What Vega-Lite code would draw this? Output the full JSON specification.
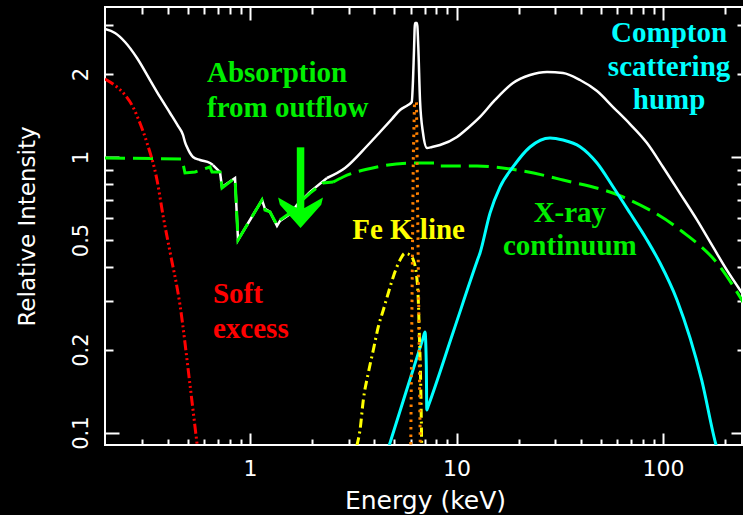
{
  "$schema": "https://vega.github.io/schema/vega-lite/v6.json",
  "autosize": "none",
  "padding": {"left": 105, "top": 7, "right": 1, "bottom": 70},
  "width": 637,
  "height": 438,
  "background": "black",
  "config": {
    "view": {"stroke": "white", "strokeWidth": 2},
    "axis": {"labelColor": "white", "titleColor": "white", "labelFont": "DejaVu Sans", "titleFont": "DejaVu Sans", "titleFontWeight": "normal", "grid": false, "domain": false, "tickColor": "white", "tickWidth": 2, "labelOverlap": false}
  },
  "datasets": {
    "totalSoft": [{"E":0.1985,"I":2.913},{"E":0.222,"I":2.817},{"E":0.2481,"I":2.613},{"E":0.2836,"I":2.286},{"E":0.328,"I":1.902},{"E":0.3665,"I":1.651},{"E":0.41,"I":1.444},{"E":0.4479,"I":1.296},{"E":0.4736,"I":1.202},{"E":0.4843,"I":1.133},{"E":0.4952,"I":1.087},{"E":0.5122,"I":1.034},{"E":0.5297,"I":1.0},{"E":0.5727,"I":0.975},{"E":0.6401,"I":0.951},{"E":0.6618,"I":0.935}],
    "totalAbs": [{"E":0.6618,"I":0.935},{"E":0.7155,"I":0.882},{"E":0.7317,"I":0.778},{"E":0.8461,"I":0.839},{"E":0.8748,"I":0.5},{"E":1.1431,"I":0.698},{"E":1.1819,"I":0.648},{"E":1.25,"I":0.632},{"E":1.3513,"I":0.562},{"E":1.3973,"I":0.586},{"E":1.5619,"I":0.621},{"E":1.6889,"I":0.67},{"E":1.9528,"I":0.747},{"E":2.3599,"I":0.839}],
    "totalHard": [{"E":2.3599,"I":0.839},{"E":2.884,"I":0.912},{"E":3.687,"I":1.096},{"E":4.2616,"I":1.232},{"E":4.872,"I":1.375},{"E":5.327,"I":1.481},{"E":5.824,"I":1.544},{"E":6.069,"I":1.583},{"E":6.157,"I":1.902},{"E":6.226,"I":2.444},{"E":6.295,"I":3.062},{"E":6.437,"I":3.062},{"E":6.531,"I":2.506},{"E":6.656,"I":1.61},{"E":6.883,"I":1.222},{"E":7.197,"I":1.078},{"E":7.61,"I":1.087},{"E":8.322,"I":1.105},{"E":10.056,"I":1.182},{"E":11.369,"I":1.274},{"E":12.998,"I":1.397},{"E":15.364,"I":1.61},{"E":18.775,"I":1.855},{"E":22.697,"I":1.983},{"E":27.438,"I":2.034},{"E":32.793,"I":2.017},{"E":39.637,"I":1.902},{"E":47.909,"I":1.735},{"E":57.282,"I":1.518},{"E":69.215,"I":1.317},{"E":83.659,"I":1.124},{"E":100,"I":0.92},{"E":120.87,"I":0.738},{"E":146.07,"I":0.591},{"E":174.66,"I":0.4716},{"E":206.48,"I":0.3828},{"E":236.01,"I":0.3294},{"E":249.5,"I":0.31}],
    "continuumSoft": [{"E":0.1985,"I":0.992},{"E":0.4686,"I":0.983},{"E":0.4843,"I":0.875},{"E":0.5417,"I":0.882},{"E":0.6401,"I":0.92},{"E":0.6546,"I":0.882},{"E":0.7155,"I":0.882},{"E":0.7317,"I":0.772},{"E":0.8461,"I":0.839},{"E":0.8748,"I":0.5},{"E":1.1431,"I":0.698},{"E":1.1819,"I":0.642},{"E":1.25,"I":0.632},{"E":1.3513,"I":0.567},{"E":1.3973,"I":0.591},{"E":1.5619,"I":0.626},{"E":1.6889,"I":0.67},{"E":1.9528,"I":0.74},{"E":2.257,"I":0.805},{"E":2.523,"I":0.811}],
    "continuumHard": [{"E":2.523,"I":0.811},{"E":2.8212,"I":0.846},{"E":4.121,"I":0.92},{"E":6.157,"I":0.951},{"E":7.197,"I":0.951},{"E":7.868,"I":0.951},{"E":8.138,"I":0.928},{"E":12.571,"I":0.928},{"E":19.634,"I":0.897},{"E":32.793,"I":0.825},{"E":64.032,"I":0.716},{"E":120.87,"I":0.544},{"E":188.8,"I":0.4},{"E":236.01,"I":0.3106},{"E":249.5,"I":0.29}],
    "compton": [{"E":4.711,"I":0.0894},{"E":5.63,"I":0.1366},{"E":6.883,"I":0.2198},{"E":7.039,"I":0.2318},{"E":7.142,"I":0.1731},{"E":7.181,"I":0.1209},{"E":7.3,"I":0.125},{"E":9.66,"I":0.2328},{"E":12.6,"I":0.42},{"E":12.998,"I":0.4485},{"E":14.529,"I":0.626},{"E":16.242,"I":0.778},{"E":18.775,"I":0.92},{"E":22.697,"I":1.087},{"E":28.369,"I":1.172},{"E":32.793,"I":1.152},{"E":39.637,"I":1.09},{"E":47.909,"I":0.951},{"E":57.282,"I":0.78},{"E":69.215,"I":0.626},{"E":83.659,"I":0.5},{"E":96.711,"I":0.4124},{"E":116.89,"I":0.3029},{"E":153.9,"I":0.1553},{"E":180.6,"I":0.0902},{"E":184.6,"I":0.0851}],
    "soft": [{"E":0.1985,"I":1.919},{"E":0.227,"I":1.794},{"E":0.2481,"I":1.679},{"E":0.2712,"I":1.518},{"E":0.2934,"I":1.325},{"E":0.3172,"I":1.124},{"E":0.3545,"I":0.825},{"E":0.3802,"I":0.606},{"E":0.41,"I":0.452},{"E":0.4581,"I":0.2904},{"E":0.5122,"I":0.149},{"E":0.5533,"I":0.0918},{"E":0.5662,"I":0.0796}],
    "fek": [{"E":3.286,"I":0.0894},{"E":3.41,"I":0.1023},{"E":3.538,"I":0.1314},{"E":3.74,"I":0.1646},{"E":3.955,"I":0.1995},{"E":4.182,"I":0.2424},{"E":4.422,"I":0.2786},{"E":4.675,"I":0.3211},{"E":4.943,"I":0.3679},{"E":5.327,"I":0.4231},{"E":5.63,"I":0.4473},{"E":5.954,"I":0.441},{"E":6.177,"I":0.4231},{"E":6.416,"I":0.3679},{"E":6.531,"I":0.3029},{"E":6.604,"I":0.2299},{"E":6.707,"I":0.1515},{"E":6.783,"I":0.0894}],
    "narrow": [{"E":6.0,"I":0.085},{"E":6.177,"I":1.0},{"E":6.26,"I":1.583},{"E":6.4,"I":1.583},{"E":6.416,"I":1.328},{"E":6.68,"I":0.085}],
    "labelsLeft": [{"t":"Absorption","g":"abs","E":0.619,"I":1.872},{"t":"from outflow","g":"abs","E":0.619,"I":1.397},{"t":"Soft","g":"soft","E":0.6618,"I":0.2954},{"t":"excess","g":"soft","E":0.6618,"I":0.2206}],
    "labelsCenter": [{"t":"Fe K line","g":"fe","E":5.86,"I":0.504},{"t":"Compton","g":"compton","E":107,"I":2.613},{"t":"scattering","g":"compton","E":107,"I":1.967},{"t":"hump","g":"compton","E":107,"I":1.493},{"t":"X-ray","g":"xray","E":35.4,"I":0.581},{"t":"continuum","g":"xray","E":35.4,"I":0.441}],
    "arrow": [{"E":1.757,"I":1.084,"I2":0.616,"tip":0.5527}]
  },
  "resolve": {"axis": {"x": "independent", "y": "independent"}},
  "layer": [
    {
      "data": {"name": "totalSoft"},
      "mark": {"type": "line", "color": "white", "strokeWidth": 2.5, "clip": true, "interpolate": "monotone"},
      "encoding": {
        "x": {"field": "E", "type": "quantitative", "scale": {"type": "log", "domain": [0.1985, 241.3], "nice": false},
          "axis": {"orient": "bottom", "values": [1, 10, 100], "format": "~g", "ticks": false, "tickSize": 0, "labelPadding": 30, "labelBaseline": "alphabetic", "labelFontSize": 22, "labelFlush": false, "title": "Energy (keV)", "titleFontSize": 25, "titleBaseline": "alphabetic", "titleAlign": "center", "titleX": 320, "titleY": 63}},
        "y": {"field": "I", "type": "quantitative", "scale": {"type": "log", "domain": [0.0902, 3.5], "nice": false},
          "axis": {"orient": "left", "values": [0.1, 0.2, 0.5, 1, 2], "format": "~g", "ticks": false, "tickSize": 0, "labelPadding": 18, "labelAngle": -90, "labelAlign": "center", "labelBaseline": "alphabetic", "labelFontSize": 21, "title": "Relative Intensity", "titleFontSize": 23, "titleAngle": -90, "titleBaseline": "alphabetic", "titleAlign": "center", "titleX": -71, "titleY": 219}}
      }
    },
    {
      "data": {"name": "totalAbs"},
      "mark": {"type": "line", "color": "white", "strokeWidth": 2.5, "clip": true},
      "encoding": {
        "x": {"field": "E", "type": "quantitative", "axis": null},
        "y": {"field": "I", "type": "quantitative", "axis": null}
      }
    },
    {
      "data": {"name": "totalHard"},
      "mark": {"type": "line", "color": "white", "strokeWidth": 2.5, "clip": true, "interpolate": "monotone"},
      "encoding": {
        "x": {"field": "E", "type": "quantitative", "axis": null},
        "y": {"field": "I", "type": "quantitative", "axis": null}
      }
    },
    {
      "data": {"name": "continuumSoft"},
      "mark": {"type": "line", "color": "#00ff00", "strokeWidth": 3, "strokeDash": [20, 8], "clip": true},
      "encoding": {
        "x": {"field": "E", "type": "quantitative", "axis": {"orient": "bottom", "values": [1, 10, 100], "labels": false, "ticks": true, "tickSize": -12, "title": null}},
        "y": {"field": "I", "type": "quantitative", "axis": {"orient": "left", "values": [0.1, 1], "labels": false, "ticks": true, "tickSize": -14, "title": null}}
      }
    },
    {
      "data": {"name": "continuumHard"},
      "mark": {"type": "line", "color": "#00ff00", "strokeWidth": 3, "strokeDash": [20, 8], "clip": true, "interpolate": "monotone"},
      "encoding": {
        "x": {"field": "E", "type": "quantitative", "axis": null},
        "y": {"field": "I", "type": "quantitative", "axis": null}
      }
    },
    {
      "data": {"name": "compton"},
      "mark": {"type": "line", "color": "#00ffff", "strokeWidth": 3, "clip": true, "interpolate": "monotone"},
      "encoding": {
        "x": {"field": "E", "type": "quantitative", "axis": {"orient": "bottom", "values": [0.3,0.4,0.5,0.6,0.7,0.8,0.9,2,3,4,5,6,7,8,9,20,30,40,50,60,70,80,90,200], "labels": false, "ticks": true, "tickSize": -6, "title": null}},
        "y": {"field": "I", "type": "quantitative", "axis": {"orient": "left", "values": [0.2,0.3,0.4,0.5,0.6,0.7,0.8,0.9,2,3], "labels": false, "ticks": true, "tickSize": -8, "title": null}}
      }
    },
    {
      "data": {"name": "soft"},
      "mark": {"type": "line", "color": "#ff0000", "strokeWidth": 3, "strokeDash": [10, 3, 2, 3, 2, 3, 2, 3], "clip": true, "interpolate": "monotone"},
      "encoding": {
        "x": {"field": "E", "type": "quantitative", "axis": {"orient": "top", "values": [1, 10, 100], "labels": false, "ticks": true, "tickSize": -13, "title": null}},
        "y": {"field": "I", "type": "quantitative", "axis": {"orient": "right", "values": [0.1, 1], "labels": false, "ticks": true, "tickSize": -11, "title": null}}
      }
    },
    {
      "data": {"name": "fek"},
      "mark": {"type": "line", "color": "#ffff00", "strokeWidth": 3, "strokeDash": [9, 4, 2, 4], "clip": true, "interpolate": "monotone"},
      "encoding": {
        "x": {"field": "E", "type": "quantitative", "axis": {"orient": "top", "values": [0.3,0.4,0.5,0.6,0.7,0.8,0.9,2,3,4,5,6,7,8,9,20,30,40,50,60,70,80,90,200], "labels": false, "ticks": true, "tickSize": -7, "title": null}},
        "y": {"field": "I", "type": "quantitative", "axis": {"orient": "right", "values": [0.2,0.3,0.4,0.5,0.6,0.7,0.8,0.9,2,3], "labels": false, "ticks": true, "tickSize": -5, "title": null}}
      }
    },
    {
      "data": {"name": "narrow"},
      "mark": {"type": "line", "color": "#ff8000", "strokeWidth": 3, "strokeDash": [2.5, 5], "clip": true},
      "encoding": {
        "x": {"field": "E", "type": "quantitative", "axis": null},
        "y": {"field": "I", "type": "quantitative", "axis": null}
      }
    },
    {
      "data": {"name": "arrow"},
      "mark": {"type": "rule", "color": "#00ff00", "strokeWidth": 7.5},
      "encoding": {
        "x": {"field": "E", "type": "quantitative", "axis": null},
        "y": {"field": "I", "type": "quantitative", "axis": null},
        "y2": {"field": "I2"}
      }
    },
    {
      "data": {"name": "arrow"},
      "mark": {"type": "point", "shape": "M0,0 L-0.94,-1.06 L-1.02,-1.38 L-0.18,-0.91 L0.18,-0.91 L1.02,-1.38 L0.94,-1.06 Z", "filled": true, "color": "#00ff00", "opacity": 1, "size": 1936, "strokeWidth": 0},
      "encoding": {
        "x": {"field": "E", "type": "quantitative", "axis": null},
        "y": {"field": "tip", "type": "quantitative", "axis": null}
      }
    },
    {
      "data": {"name": "labelsLeft"},
      "mark": {"type": "text", "align": "left", "baseline": "alphabetic", "font": "Liberation Serif", "fontWeight": "bold", "fontSize": 29},
      "encoding": {
        "x": {"field": "E", "type": "quantitative", "axis": null},
        "y": {"field": "I", "type": "quantitative", "axis": null},
        "text": {"field": "t"},
        "color": {"field": "g", "type": "nominal", "legend": null, "scale": {"domain": ["abs", "soft", "fe", "compton", "xray"], "range": ["#00ee00", "#ff0000", "#ffff00", "#00ffff", "#00ee00"]}}
      }
    },
    {
      "data": {"name": "labelsCenter"},
      "mark": {"type": "text", "align": "center", "baseline": "alphabetic", "font": "Liberation Serif", "fontWeight": "bold", "fontSize": 29},
      "encoding": {
        "x": {"field": "E", "type": "quantitative", "axis": null},
        "y": {"field": "I", "type": "quantitative", "axis": null},
        "text": {"field": "t"},
        "color": {"field": "g", "type": "nominal", "legend": null}
      }
    }
  ]
}
